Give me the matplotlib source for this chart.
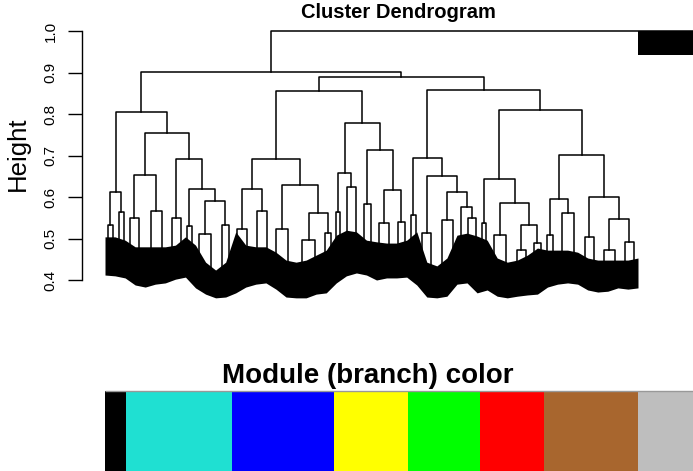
import matplotlib
matplotlib.use("Agg")
import matplotlib.pyplot as plt
import numpy as np

plt.rcParams['font.family'] = ['Liberation Sans', 'DejaVu Sans']

# ---- data ------------------------------------------------------------------
# tree nodes: [merge height, left, right]; an int is a dense clump of n leaves
black = [0.612, [0.533, 5, 6], [0.564, 5, 5]]
turquoise = [0.754,
             [0.653, [0.549, 7, 12], [0.566, 11, 11]],
             [0.692, [0.549, 9, 9],
              [0.619, [0.530, 4, 5],
               [0.590, [0.511, 10, 14], [0.533, 7, 7]]]]]
blue = [0.692,
        [0.619, [0.523, 10, 10], [0.566, 10, 10]],
        [0.629, [0.523, 8, 16], [0.561, [0.496, 12, 14], [0.513, 6, 6]]]]
yellow = [0.778,
          [0.658, [0.564, 4, 4], [0.624, 9, 9]],
          [0.713, [0.583, 7, 7], [0.617, [0.537, 10, 10], [0.540, 7, 7]]]]
green = [0.694,
         [0.557, 5, 6],
         [0.651, [0.513, 6, 12],
          [0.612, [0.545, 10, 11], [0.576, 6, [0.549, 8, 8]]]]]
red = [0.643, [0.537, 3, 5],
       [0.586, [0.508, 12, 12], [0.533, [0.472, 9, 9], [0.489, 7, 7]]]]
brown = [0.701,
         [0.595, [0.508, 6, 6], [0.561, 12, 12]],
         [0.600, [0.504, 9, 9], [0.547, [0.472, 11, 11], [0.492, 9, 9]]]]

modules = [black, turquoise, blue, yellow, green, red, brown]
module_colors = ['#000000', '#1FE0D2', '#0000FF', '#FFFF00',
                 '#00FF00', '#FF0000', '#A8662E', '#BEBEBE']

upper_heights = {'bk_tq': 0.805, 'bl_ye': 0.855, 're_br': 0.810,
                 'gr_rb': 0.858, 'right': 0.889, 'main': 0.901, 'root': 1.0}

# grey (unassigned) genes, hanging just below the root
grey_n = 120
grey_hang = 0.942

# dense leaf mass: lower and upper edge, sampled evenly along the leaf order
mass_floor = [0.412, 0.410, 0.405, 0.388, 0.383, 0.390, 0.393, 0.402, 0.407,
              0.381, 0.366, 0.357, 0.359, 0.369, 0.383, 0.390, 0.393, 0.378,
              0.359, 0.357, 0.357, 0.366, 0.369, 0.393, 0.410, 0.417, 0.412,
              0.400, 0.405, 0.405, 0.407, 0.388, 0.359, 0.357, 0.361, 0.390,
              0.393, 0.369, 0.376, 0.361, 0.357, 0.361, 0.364, 0.366, 0.383,
              0.390, 0.393, 0.390, 0.376, 0.371, 0.373, 0.381, 0.378, 0.381]
mass_top = [0.504, 0.504, 0.496, 0.480, 0.480, 0.480, 0.480, 0.484, 0.504,
            0.484, 0.443, 0.424, 0.443, 0.516, 0.484, 0.480, 0.480, 0.467,
            0.448, 0.443, 0.448, 0.460, 0.472, 0.508, 0.520, 0.516, 0.496,
            0.492, 0.489, 0.489, 0.496, 0.516, 0.443, 0.434, 0.453, 0.508,
            0.513, 0.506, 0.496, 0.453, 0.443, 0.448, 0.460, 0.477, 0.472,
            0.472, 0.472, 0.467, 0.453, 0.448, 0.448, 0.448, 0.448, 0.453]

# ---- figure ------------------------------------------------------------------
W, H = 693, 471
fig = plt.figure(figsize=(W / 100, H / 100), dpi=100)


def px_axes(x0, y0, x1, y1):
    return fig.add_axes([x0 / W, 1 - y1 / H, (x1 - x0) / W, (y1 - y0) / H])


ax = px_axes(82, 20, 693, 305)
lw = 1.1
stem_bottom = 0.42


def draw(node, start):
    if isinstance(node, int):
        return start + node / 2, stem_bottom, node
    h, left, right = node
    xl, hl, nl = draw(left, start)
    xr, hr, nr = draw(right, start + nl)
    ax.plot([xl, xl, xr, xr], [hl, h, h, hr], color='black', lw=lw, zorder=2)
    return (xl + xr) / 2, h, nl + nr


def join(a, b, h):
    xa, ha, na = a
    xb, hb, nb = b
    ax.plot([xa, xa, xb, xb], [ha, h, h, hb], color='black', lw=lw, zorder=2)
    return (xa + xb) / 2, h, na + nb


pos = 0
drawn = []
sizes = []
for m in modules:
    r = draw(m, pos)
    drawn.append(r)
    sizes.append(r[2])
    pos += r[2]
n_main = pos

bk_tq = join(drawn[0], drawn[1], upper_heights['bk_tq'])
bl_ye = join(drawn[2], drawn[3], upper_heights['bl_ye'])
re_br = join(drawn[5], drawn[6], upper_heights['re_br'])
gr_rb = join(drawn[4], re_br, upper_heights['gr_rb'])
right = join(bl_ye, gr_rb, upper_heights['right'])
main = join(bk_tq, right, upper_heights['main'])
join(main, (n_main + grey_n / 2, grey_hang, grey_n), upper_heights['root'])

ax.fill_between([n_main, n_main + grey_n], grey_hang, upper_heights['root'],
                color='black', lw=0, zorder=3)
mass_x = np.linspace(0, n_main, len(mass_floor))
ax.fill_between(mass_x, mass_floor, mass_top, color='black', lw=0, zorder=3)

ax.set_xlim(-23, 588)
ax.set_ylim(0.3398, 1.0265)
for s in ['top', 'right', 'bottom']:
    ax.spines[s].set_visible(False)
ax.spines['left'].set_bounds(0.4, 1.0)
ax.spines['left'].set_linewidth(1.0)
ax.set_xticks([])
ax.set_yticks([0.4, 0.5, 0.6, 0.7, 0.8, 0.9, 1.0])
ax.tick_params(axis='y', length=10, width=1.0, pad=7.5, labelsize=11,
               labelrotation=90)
for t in ax.get_yticklabels():
    t.set_va('center')
ax.set_ylabel('Height', fontsize=18.5)
ax.yaxis.label.set_va('center')
ax.yaxis.set_label_coords(-64 / 611, 0.53)

fig.text(398 / W, 1 - 12 / H, 'Cluster Dendrogram', ha='center', va='center',
         fontsize=14.5, fontweight='bold')

# ---- module colour bar -----------------------------------------------------
axc = px_axes(82, 390, 693, 471)
sizes.append(grey_n)
starts = np.concatenate([[0], np.cumsum(sizes)[:-1]])
axc.bar(starts, 1, width=sizes, align='edge', color=module_colors, lw=0)
axc.hlines(1, 0, sum(sizes), color='0.6', lw=1)
axc.set_xlim(-23, 588)
axc.set_ylim(0, 1.01)
axc.axis('off')
fig.text(368 / W, 1 - 376 / H, 'Module (branch) color', ha='center',
         va='center', fontsize=20, fontweight='bold')

fig.savefig('out.png', dpi=100)
